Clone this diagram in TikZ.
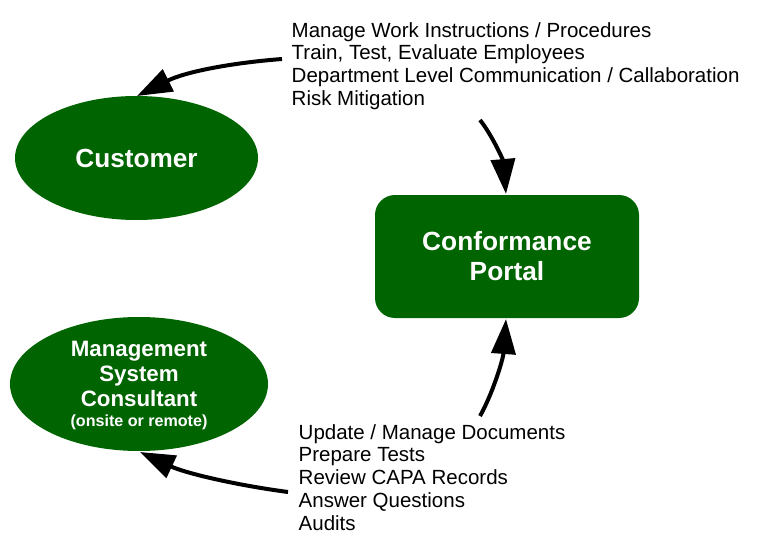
\documentclass[tikz,border=0pt]{standalone}
\usepackage{fontspec}
\setmainfont{Liberation Sans}
\usetikzlibrary{arrows.meta,shapes.geometric}
\definecolor{portalgreen}{HTML}{006400}
\tikzset{
  bubble/.style={ellipse,fill=portalgreen,inner sep=0pt,text=white,font=\fontsize{22.3pt}{25pt}\selectfont\bfseries,align=center},
  tasks/.style={anchor=north west,inner sep=0pt,align=left,font=\fontsize{20.5pt}{22.85pt}\selectfont},
  flow/.style={line width=4pt,-{Triangle[length=35pt,width=24pt]}}
}
\begin{document}
\begin{tikzpicture}[x=1pt,y=-1pt]
  \useasboundingbox (0,0) rectangle (772,551);
  \node[bubble,minimum width=243pt,minimum height=124pt] (customer) at (136.5,158) {\fontsize{26.2pt}{27pt}\selectfont Customer};
  \node[bubble,minimum width=258pt,minimum height=134pt] (consultant) at (139,384) {\rule{0pt}{17.5pt}Management\\System\\Consultant\\[-5pt]{\fontsize{16.1pt}{17pt}\selectfont (onsite or remote)}};
  \node[fill=portalgreen,rounded corners=20pt,minimum width=264pt,minimum height=123pt,inner sep=0pt,text=white,align=center,font=\fontsize{26.3pt}{30pt}\selectfont\bfseries] (portal) at (507,256.5) {Conformance\\Portal};
  \node[tasks] (manage) at (291.5,22) {Manage Work Instructions / Procedures\\Train, Test, Evaluate Employees\\Department Level Communication / Callaboration\\Risk Mitigation};
  \node[tasks] (update) at (298.5,424) {Update / Manage Documents\\Prepare Tests\\Review CAPA Records\\Answer Questions\\Audits};
  \coordinate (manageout) at (282,59);
  \coordinate (managedown) at (480,120);
  \coordinate (updateup) at (480,416);
  \coordinate (updateout) at (288,492);
  \coordinate (customertop) at (137,96);
  \coordinate (consultantlow) at (140,452);
  \coordinate (portaltop) at (506,194);
  \coordinate (portallow) at (506,319);
  \draw[flow] (manageout) .. controls (230,63) and (185,72) .. (customertop);
  \draw[flow] (managedown) .. controls (492,135) and (503,160) .. (portaltop);
  \draw[flow] (updateup) .. controls (492,395) and (503,360) .. (portallow);
  \draw[flow] (updateout) .. controls (235,485) and (185,473) .. (consultantlow);
\end{tikzpicture}
\end{document}
